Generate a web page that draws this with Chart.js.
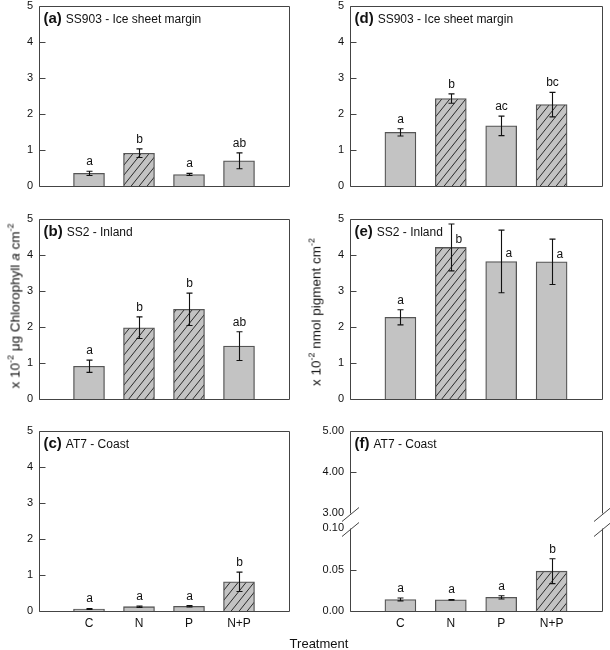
<!DOCTYPE html>
<html>
<head>
<meta charset="utf-8">
<script src="https://cdn.jsdelivr.net/npm/chart.js@4.4.0/dist/chart.umd.min.js"></script>
<style>
    body { margin: 0; background: #fff; width: 610px; height: 650px; position: relative; overflow: hidden;
           font-family: 'Liberation Sans', Arial, sans-serif; color: #111; }
    canvas { position: absolute; }
    .ytitle { position: absolute; white-space: nowrap; font-size: 13.5px; line-height: 1;
              transform: translate(-50%, -50%) rotate(-90deg); }
    .ytitle sup { font-size: 9px; }
    #xtitle { position: absolute; font-size: 13px; transform: translate(-50%, -50%); white-space: nowrap; }
</style>
</head>
<body>
<canvas id="pa" width="300" height="215" style="left:0;top:-10px"></canvas>
<canvas id="pb" width="300" height="220" style="left:0;top:200px"></canvas>
<canvas id="pc" width="300" height="240" style="left:0;top:410px"></canvas>
<canvas id="pd" width="305" height="215" style="left:305px;top:-10px"></canvas>
<canvas id="pe" width="305" height="220" style="left:305px;top:200px"></canvas>
<canvas id="pfu" width="305" height="120" style="left:305px;top:410px"></canvas>
<canvas id="pfl" width="305" height="140" style="left:305px;top:510px"></canvas>

<div class="ytitle" style="left:13.5px;top:306px">x 10<sup>-2</sup> μg Chlorophyll <i>a</i> cm<sup>-2</sup></div>
<div class="ytitle" style="left:314.5px;top:312px">x 10<sup>-2</sup> nmol pigment cm<sup>-2</sup></div>
<div id="xtitle" style="left:319px;top:643px">Treatment</div>

<script>
// --- Data ---
const treatments = ['C', 'N', 'P', 'N+P'];

// Chlorophyll a (x 10^-2 ug cm^-2), mean and +/- error
const chlIce = [0.35, 0.91, 0.32, 0.70];
const chlIceErr = [0.06, 0.12, 0.03, 0.22];
const chlInland = [0.91, 1.98, 2.49, 1.47];
const chlInlandErr = [0.17, 0.30, 0.45, 0.40];
const chlCoast = [0.056, 0.12, 0.13, 0.81];
const chlCoastErr = [0.015, 0.02, 0.02, 0.27];

// Pigment (x 10^-2 nmol cm^-2)
const pigIce = [1.49, 2.43, 1.67, 2.26];
const pigIceErr = [0.10, 0.13, 0.27, 0.34];
const pigInland = [2.27, 4.21, 3.82, 3.81];
const pigInlandErr = [0.21, 0.65, 0.87, 0.63];
const pigCoast = [0.0139, 0.0135, 0.0164, 0.048];
const pigCoastErr = [0.0017, 0.0004, 0.002, 0.015];

// significance letters
const lettersA = ['a', 'b', 'a', 'ab'];
const lettersB = ['a', 'b', 'b', 'ab'];
const lettersC = ['a', 'a', 'a', 'b'];
const lettersD = ['a', 'b', 'ac', 'bc'];
const lettersE = ['a', 'b', 'a', 'a'];
const lettersF = ['a', 'a', 'a', 'b'];

// which treatments are hatched (significant)
const hatchA = [false, true, false, false];
const hatchB = [false, true, true, false];
const hatchC = [false, false, false, true];
const hatchD = [false, true, false, true];
const hatchE = [false, true, false, false];
const hatchF = [false, false, false, true];

const FONT = "'Liberation Sans', Arial, sans-serif";
const BAR_FILL = '#c3c3c3';
const LINE = '#444';

// diagonal hatch pattern
const makeHatch = () => {
    const w = 8, h = 10;
    const c = document.createElement('canvas');
    c.width = w; c.height = h;
    const g = c.getContext('2d');
    g.fillStyle = BAR_FILL;
    g.fillRect(0, 0, w, h);
    g.strokeStyle = '#2a2a2a';
    g.lineWidth = 1;
    g.beginPath();
    g.moveTo(-w, 2 * h); g.lineTo(2 * w, -h);
    g.moveTo(-w, h); g.lineTo(w, -h);
    g.moveTo(0, 2 * h); g.lineTo(2 * w, 0);
    g.stroke();
    return g.createPattern(c, 'repeat');
};
const hatchPattern = makeHatch();

// overlay: error bars, letters, frame, inward ticks, panel label
const overlay = (cfg) => ({
    id: 'overlay',
    afterDatasetsDraw(chart) {
        if (!cfg.values) return;
        const { ctx, scales: { x, y } } = chart;
        ctx.save();
        ctx.strokeStyle = '#111';
        ctx.lineWidth = 1.1;
        ctx.fillStyle = '#111';
        ctx.font = `12px ${FONT}`;
        cfg.values.forEach((v, i) => {
            const xp = Math.round(x.getPixelForValue(i + 1)) + 0.5;
            const hi = y.getPixelForValue(v + cfg.errors[i]);
            const lo = y.getPixelForValue(v - cfg.errors[i]);
            ctx.beginPath();
            ctx.moveTo(xp, lo); ctx.lineTo(xp, hi);
            ctx.moveTo(xp - 3, hi); ctx.lineTo(xp + 3, hi);
            ctx.moveTo(xp - 3, lo); ctx.lineTo(xp + 3, lo);
            ctx.stroke();

            if (cfg.letterSide && cfg.letterSide[i]) {
                ctx.textAlign = 'left';
                ctx.fillText(cfg.letters[i], xp + 4, y.getPixelForValue(v) - 4);
            } else {
                ctx.textAlign = 'center';
                ctx.fillText(cfg.letters[i], xp, hi - 6);
            }
        });
        ctx.restore();
    },
    afterDraw(chart) {
        const { ctx, chartArea: ca, scales: { y } } = chart;
        const L = Math.round(ca.left) + 0.5, R = Math.round(ca.right) + 0.5;
        const T = Math.round(ca.top) + 0.5, B = Math.round(ca.bottom) + 0.5;
        ctx.save();
        ctx.strokeStyle = LINE;
        ctx.lineWidth = 1;
        ctx.beginPath();
        if (!cfg.breakTop) { ctx.moveTo(L, T); ctx.lineTo(R, T); }
        if (!cfg.breakBottom) { ctx.moveTo(L, B); ctx.lineTo(R, B); }
        ctx.moveTo(L, T); ctx.lineTo(L, B);
        ctx.moveTo(R, T); ctx.lineTo(R, B);

        // inward tick marks on the left axis
        const last = y.ticks.length - 1;
        y.ticks.forEach((t, k) => {
            if (cfg.breakBottom && k === 0) return;
            if (cfg.breakTop && k === last) return;
            const yp = Math.round(y.getPixelForValue(t.value)) + 0.5;
            ctx.moveTo(L, yp); ctx.lineTo(L + 6, yp);
        });

        // axis break marks
        const slash = (cx, cy) => { ctx.moveTo(cx - 8.5, cy + 7); ctx.lineTo(cx + 8.5, cy - 7); };
        if (cfg.breakBottom) { slash(L, B + 1); slash(R, B + 1); }
        if (cfg.breakTop) { slash(L, T + 1); slash(R, T + 1); }
        ctx.stroke();

        if (cfg.label) {
            ctx.fillStyle = '#111';
            ctx.textAlign = 'left';
            ctx.textBaseline = 'alphabetic';
            ctx.font = `bold 15px ${FONT}`;
            ctx.fillText(cfg.label, L + 4, T + 16.5);
            const w = ctx.measureText(cfg.label).width;
            ctx.font = `12px ${FONT}`;
            ctx.fillText(cfg.name, L + 4 + w + 4, T + 16.5);
        }
        ctx.restore();
    }
});

const makePanel = (cfg) => {
    const data = cfg.values ? [null, ...cfg.values, null] : [];
    const fills = cfg.hatched ? [BAR_FILL, ...cfg.hatched.map(h => h ? hatchPattern : BAR_FILL), BAR_FILL] : BAR_FILL;
    return new Chart(document.getElementById(cfg.id), {
        type: 'bar',
        data: {
            labels: ['', ...treatments, ''],
            datasets: [{
                data: data,
                backgroundColor: fills,
                borderColor: '#555',
                borderWidth: 1.3,
                borderSkipped: 'start',
                barThickness: 31
            }]
        },
        options: {
            responsive: false,
            animation: false,
            events: [],
            layout: { autoPadding: false, padding: cfg.pad },
            plugins: { legend: { display: false }, tooltip: { enabled: false } },
            scales: {
                x: {
                    type: 'category',
                    offset: false,
                    grid: { display: false, drawTicks: false, tickLength: 0 },
                    border: { display: false },
                    ticks: {
                        display: !!cfg.showX, autoSkip: false, maxRotation: 0, minRotation: 0,
                        font: { size: 12, family: FONT }, color: '#111', padding: 5
                    },
                    afterFit: (s) => { s.height = cfg.showX ? 25 : 0; }
                },
                y: {
                    min: cfg.yMin, max: cfg.yMax,
                    grid: { display: false, drawTicks: false, tickLength: 0 },
                    border: { display: false },
                    ticks: {
                        stepSize: cfg.step,
                        font: { size: 11, family: FONT }, color: '#111', padding: 6,
                        callback: (v) => Number(v).toFixed(cfg.decimals)
                    },
                    afterFit: (s) => { s.width = cfg.axisW; }
                }
            }
        },
        plugins: [overlay(cfg)]
    });
};

const leftPad = (top, bottom) => ({ top: top, right: 11, bottom: bottom, left: 0 });
const rightPad = (top, bottom) => ({ top: top, right: 8, bottom: bottom, left: 0 });

makePanel({ id: 'pa', values: chlIce, errors: chlIceErr, letters: lettersA, hatched: hatchA,
    label: '(a)', name: 'SS903 - Ice sheet margin', yMin: 0, yMax: 5, step: 1, decimals: 0,
    axisW: 39, pad: leftPad(16, 19) });
makePanel({ id: 'pb', values: chlInland, errors: chlInlandErr, letters: lettersB, hatched: hatchB,
    label: '(b)', name: 'SS2 - Inland', yMin: 0, yMax: 5, step: 1, decimals: 0,
    axisW: 39, pad: leftPad(19, 21) });
makePanel({ id: 'pc', values: chlCoast, errors: chlCoastErr, letters: lettersC, hatched: hatchC,
    label: '(c)', name: 'AT7 - Coast', yMin: 0, yMax: 5, step: 1, decimals: 0,
    axisW: 39, pad: leftPad(21, 14), showX: true });

makePanel({ id: 'pd', values: pigIce, errors: pigIceErr, letters: lettersD, hatched: hatchD,
    label: '(d)', name: 'SS903 - Ice sheet margin', yMin: 0, yMax: 5, step: 1, decimals: 0,
    axisW: 45, pad: rightPad(16, 19) });
makePanel({ id: 'pe', values: pigInland, errors: pigInlandErr, letters: lettersE, hatched: hatchE,
    letterSide: [false, true, true, true],
    label: '(e)', name: 'SS2 - Inland', yMin: 0, yMax: 5, step: 1, decimals: 0,
    axisW: 45, pad: rightPad(19, 21) });
// (f) has a broken axis: upper 3-5 part and lower 0-0.10 part
makePanel({ id: 'pfu', label: '(f)', name: 'AT7 - Coast', yMin: 3, yMax: 5, step: 1, decimals: 2,
    axisW: 45, pad: rightPad(21, 17), breakBottom: true });
makePanel({ id: 'pfl', values: pigCoast, errors: pigCoastErr, letters: lettersF, hatched: hatchF,
    yMin: 0, yMax: 0.1, step: 0.05, decimals: 2,
    axisW: 45, pad: rightPad(18, 14), showX: true, breakTop: true });
</script>
</body>
</html>
